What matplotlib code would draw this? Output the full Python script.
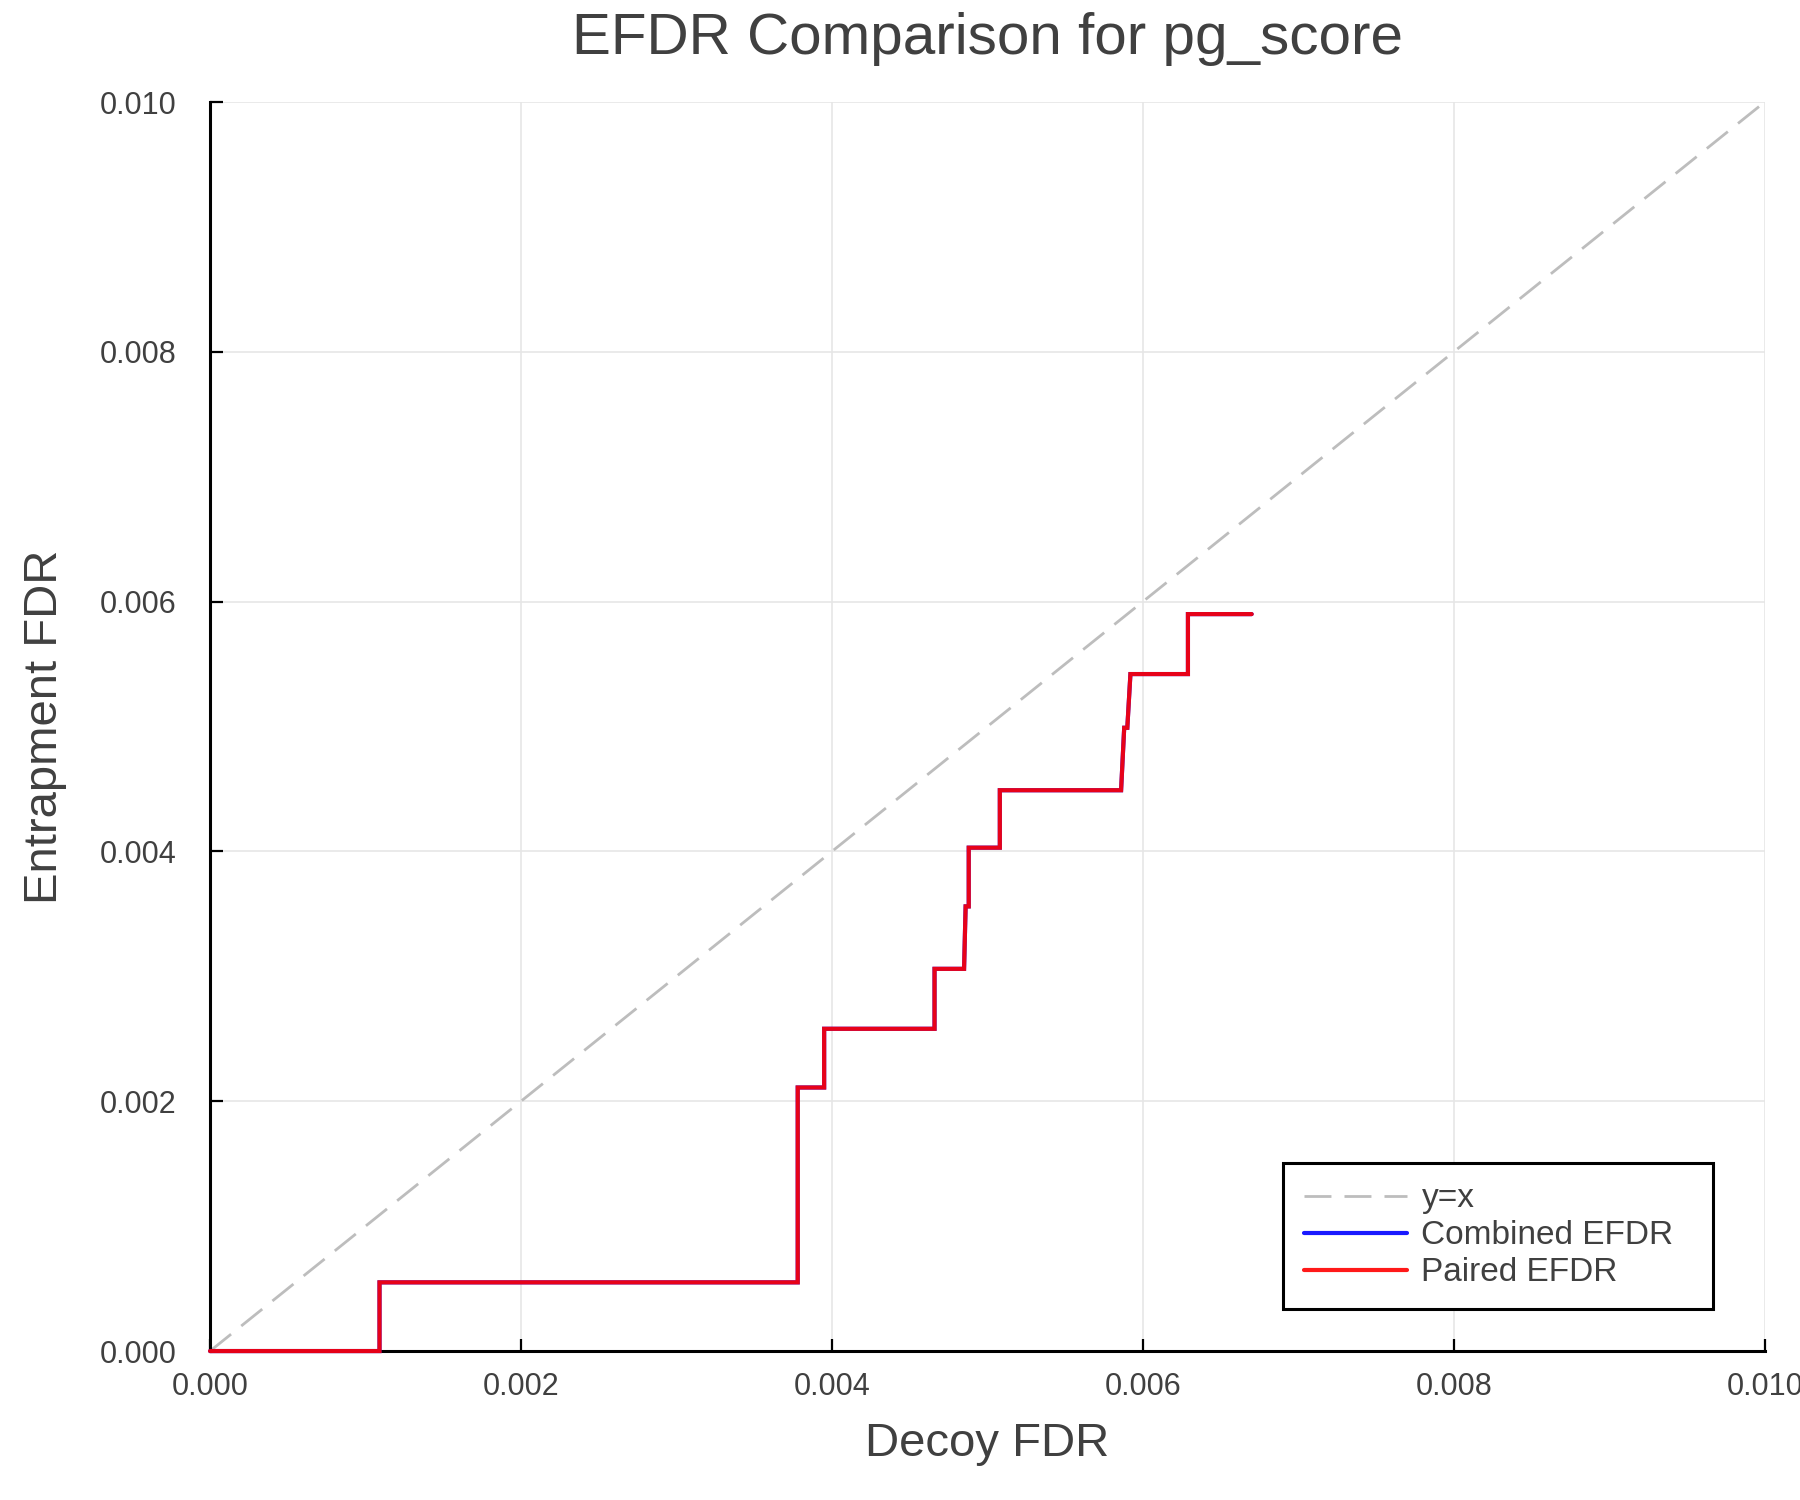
import matplotlib
matplotlib.use("Agg")
import matplotlib.pyplot as plt

# values
decoy_fdr = [0.0, 0.00109, 0.00109, 0.00378, 0.00378, 0.00395, 0.00395,
             0.00466, 0.00466, 0.00485, 0.00486, 0.00488, 0.00488, 0.00508,
             0.00508, 0.00586, 0.00588, 0.00590, 0.00592, 0.00629, 0.00629,
             0.00670]
paired_efdr = [0.0, 0.0, 0.00055, 0.00055, 0.00211, 0.00211, 0.00258,
               0.00258, 0.00306, 0.00306, 0.00356, 0.00356, 0.00403, 0.00403,
               0.00449, 0.00449, 0.00499, 0.00499, 0.00542, 0.00542, 0.00590,
               0.00590]
combined_efdr = list(paired_efdr)  # same curve, hidden under the red one
diag = [0.0, 0.01]

ticks = [0.0, 0.002, 0.004, 0.006, 0.008, 0.010]
tick_labels = ["0.000", "0.002", "0.004", "0.006", "0.008", "0.010"]

txt = "#404040"
plt.rcParams["font.family"] = ["Liberation Sans", "DejaVu Sans"]

fig = plt.figure(figsize=(18, 15), dpi=100)
ax = fig.add_axes([0.1167, 0.0993, 0.8637, 0.8327])

ax.plot(diag, diag, color="#bdbdbd", lw=2, dashes=[9.7, 4.7], label="y=x",
        zorder=2)
ax.plot(decoy_fdr, combined_efdr, color="blue", alpha=0.9, lw=3,
        label="Combined EFDR", solid_capstyle="round", solid_joinstyle="miter",
        clip_on=False, zorder=3)
ax.plot(decoy_fdr, paired_efdr, color="red", alpha=0.9, lw=3,
        label="Paired EFDR", solid_capstyle="round", solid_joinstyle="miter",
        clip_on=False, zorder=4)

ax.set_xlim(0, 0.01)
ax.set_ylim(0, 0.01)
ax.set_xticks(ticks)
ax.set_xticklabels(tick_labels)
ax.set_yticks(ticks)
ax.set_yticklabels(tick_labels)
ax.grid(True, color="#e6e6e6", lw=1.2)
ax.set_axisbelow(True)

for s in ["top", "right"]:
    ax.spines[s].set_visible(False)
for s in ["left", "bottom"]:
    ax.spines[s].set_linewidth(2.2)
    ax.spines[s].set_zorder(2.5)

ax.tick_params(axis="both", direction="in", length=9, width=1.6,
               labelsize=22, labelcolor=txt)
ax.tick_params(axis="x", pad=15)
ax.tick_params(axis="y", pad=24)

ax.set_xlabel("Decoy FDR", fontsize=34, color=txt)
ax.xaxis.set_label_coords(0.5, -0.057)
ax.set_ylabel("Entrapment FDR", fontsize=34, color=txt)
ax.yaxis.set_label_coords(-0.092, 0.5)

ax.text(0.5, 1.0384, "EFDR Comparison for pg_score", transform=ax.transAxes,
        ha="center", va="baseline", fontsize=42, color=txt)

leg = ax.legend(loc="lower left", bbox_to_anchor=(0.6902, 0.0336, 0.2766, 0.121),
                mode="expand", borderaxespad=0, fontsize=24, handlelength=3.1,
                handletextpad=0.43, labelspacing=0.18, borderpad=0.62,
                fancybox=False, framealpha=1, edgecolor="black")
leg.get_frame().set_linewidth(2.2)
for t in leg.get_texts():
    t.set_color(txt)

fig.savefig("out.png", dpi=100)
